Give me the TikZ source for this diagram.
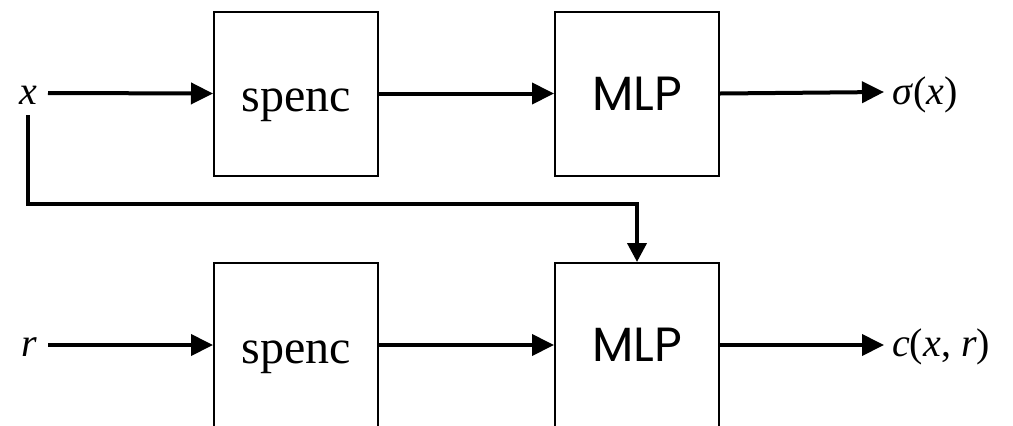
\documentclass[tikz,border=0pt]{standalone}
\usepackage{fontspec}
\setmainfont{Liberation Serif}
\newfontfamily\mlpfont{Poppins}
\usetikzlibrary{arrows.meta}
\tikzset{
  blk/.style={draw, line width=2bp, minimum width=164bp, minimum height=164bp, inner sep=0pt},
  serifbox/.style={blk, font=\fontsize{48bp}{48bp}\selectfont, text height=36bp, text depth=0bp},
  mlpbox/.style={blk, font=\mlpfont\fontsize{48bp}{48bp}\selectfont, text height=33bp, text depth=0bp},
  lbl/.style={inner sep=0pt, font=\fontsize{40bp}{40bp}\selectfont},
  conn/.style={line width=4bp, -{Triangle[length=22bp,width=21bp]}},
  feed/.style={line width=4bp, -{Triangle[length=19bp,width=19bp]}}
}
\begin{document}
\begin{tikzpicture}[x=1bp,y=-1bp]
\useasboundingbox (0,0) rectangle (1013,425);
\node[serifbox] (s1) at (296,93.5) {spenc};
\node[mlpbox] (m1) at (637,93.5) {MLP};
\node[serifbox] (s2) at (296,345) {spenc};
\node[mlpbox] (m2) at (637,345) {MLP};
\node[lbl, anchor=base] (x) at (28,104) {\textit{x}};
\node[lbl, anchor=base] (r) at (29,356) {\textit{r}};
\node[lbl, anchor=base west] (sig) at (892,104) {\textit{σ}(\textit{x})};
\node[lbl, anchor=base west] (c) at (892,356) {\textit{c}(\textit{x}, \textit{r})};
\coordinate (xs) at (48,93);
\coordinate (rs) at (48,345);
\coordinate (xd) at (28,115);
\coordinate (corner) at (28,204);
\coordinate (o1) at (884,92);
\coordinate (o2) at (884,345);
\draw[conn] (xs) -- (s1.west);
\draw[conn] (s1.east) -- (m1.west);
\draw[conn] (m1.east) -- (o1);
\draw[conn] (rs) -- (s2.west);
\draw[conn] (s2.east) -- (m2.west);
\draw[conn] (m2.east) -- (o2);
\draw[feed] (xd) -- (corner) -| (m2.north);
\end{tikzpicture}
\end{document}
